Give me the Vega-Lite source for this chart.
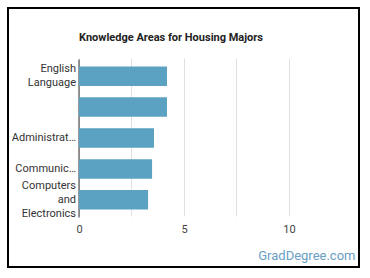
{
  "$schema": "https://vega.github.io/schema/vega-lite/v6.json",
  "width": 351,
  "height": 259,
  "autosize": {"type": "none"},
  "padding": {"left": 8, "top": 8, "right": 11, "bottom": 11},
  "background": "white",
  "title": {
    "text": "Knowledge Areas for Housing Majors",
    "anchor": "start",
    "frame": "group",
    "dx": 71,
    "offset": -41,
    "baseline": "middle",
    "font": "Roboto",
    "fontSize": 11,
    "fontWeight": "bold",
    "color": "#222222"
  },
  "data": {
    "values": [
      {"area": "English Language", "value": 4.19},
      {"area": "(unlabelled)", "value": 4.19},
      {"area": "Administration and Management", "value": 3.57},
      {"area": "Communications and Media", "value": 3.48},
      {"area": "Computers and Electronics", "value": 3.29}
    ]
  },
  "mark": {"type": "bar", "color": "#5ba1c2"},
  "encoding": {
    "y": {
      "field": "area",
      "type": "nominal",
      "sort": null,
      "scale": {"range": [51, 209], "paddingInner": 0.37, "paddingOuter": 0.24},
      "axis": {
        "title": null,
        "offset": -70.5,
        "domain": true,
        "domainColor": "#333333",
        "ticks": false,
        "grid": false,
        "labelFont": "Roboto",
        "labelFontSize": 11,
        "labelColor": "#333333",
        "labelPadding": 3,
        "labelLineHeight": 14,
        "labelLimit": 120,
        "labelOffset": {
          "condition": [
            {"test": "datum.value == 'English Language'", "value": -7},
            {"test": "datum.value == 'Computers and Electronics'", "value": -14}
          ],
          "value": 0
        },
        "labelExpr": "datum.value == 'English Language' ? ['English','Language'] : datum.value == 'Computers and Electronics' ? ['Computers','and','Electronics'] : datum.value == 'Administration and Management' ? 'Administrat…' : datum.value == 'Communications and Media' ? 'Communic…' : ''"
      }
    },
    "x": {
      "field": "value",
      "type": "quantitative",
      "scale": {"domain": [0, 13.143], "range": [71, 347], "nice": false, "zero": true},
      "axis": {
        "title": "GradDegree.com",
        "titleX": 347,
        "titleY": 38.7,
        "titleAlign": "right",
        "titleBaseline": "middle",
        "titleFont": "Roboto",
        "titleFontSize": 13,
        "titleFontWeight": "normal",
        "titleColor": "#6a9ec4",
        "offset": -50,
        "values": [0, 2.5, 5, 7.5, 10],
        "labelExpr": "datum.value % 5 == 0 ? datum.label : ''",
        "labelFlush": false,
        "domain": false,
        "ticks": false,
        "grid": true,
        "gridColor": "#e0e0e0",
        "labelFont": "Roboto",
        "labelFontSize": 11,
        "labelColor": "#444444",
        "labelPadding": 6
      }
    }
  },
  "config": {"view": {"stroke": "#000000", "strokeWidth": 2}}
}
